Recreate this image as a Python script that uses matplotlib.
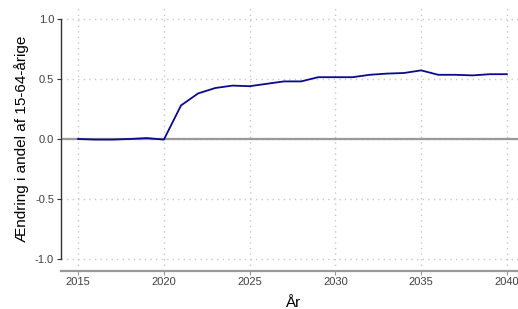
import matplotlib.pyplot as plt
import numpy as np

plt.rcParams['font.family'] = ['Liberation Sans', 'DejaVu Sans']

# data
years = list(range(2015, 2041))
change = [0.0, -0.005, -0.005, 0.0, 0.008, -0.005,
          0.28, 0.38, 0.425, 0.445, 0.44, 0.46, 0.48, 0.48, 0.515, 0.515,
          0.515, 0.535, 0.545, 0.55, 0.572, 0.535, 0.535, 0.53, 0.54, 0.54]
xticks = [2015, 2020, 2025, 2030, 2035, 2040]
yticks = [-1.0, -0.5, 0.0, 0.5, 1.0]

fig = plt.figure(figsize=(5.18, 3.09), dpi=100)
ax = fig.add_axes([61/518, 1 - 271/309, (524 - 61)/518, 264/309])

ax.grid(True, color="#c8c8c8", linestyle=(0, (1, 3)), linewidth=1)
ax.set_axisbelow(True)
ax.axhline(0, color="#999999", linewidth=1.6, zorder=2)
ax.plot(years, change, color="#0a0a8c", linewidth=1.3, zorder=3)

ax.set_xlim(2014, 2041)
ax.set_ylim(-1.1, 1.1)
ax.set_xticks(xticks)
ax.set_yticks(yticks)
ax.set_yticklabels([f"{v:.1f}" for v in yticks])

for s in ["top", "right"]:
    ax.spines[s].set_visible(False)
ax.spines["left"].set_bounds(-1, 1)
ax.spines["left"].set_color("#333333")
ax.spines["left"].set_linewidth(1.0)
ax.spines["bottom"].set_color("#999999")
ax.spines["bottom"].set_linewidth(1.6)

ax.tick_params(axis="y", length=3, color="#333333", labelsize=8, labelcolor="#404040", pad=2)
ax.tick_params(axis="x", length=3, color="#999999", labelsize=8, labelcolor="#404040", pad=1)

ax.set_xlabel("År", fontsize=11, labelpad=7)
ax.set_ylabel("Ændring i andel af 15-64-årige", fontsize=11, labelpad=4)

fig.savefig("out.png", dpi=100)
